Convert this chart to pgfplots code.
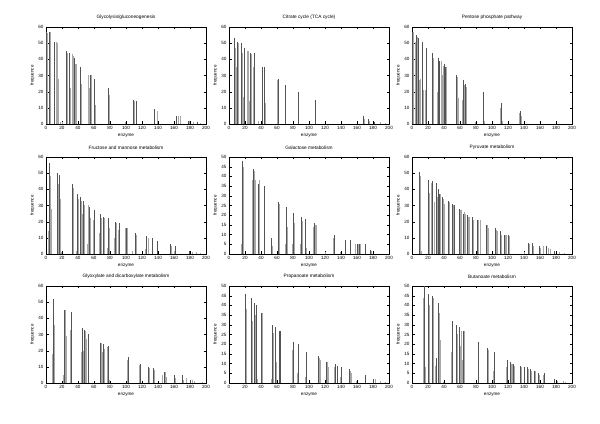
\documentclass[border=0pt]{standalone}
\usepackage{pgfplots}
\pgfplotsset{compat=1.18}
\usepackage{fontspec}
\setmainfont{Liberation Sans}
\definecolor{dk}{gray}{0.33}
\definecolor{lt}{gray}{0.66}
\pgfplotsset{
  panel/.style={
    width=160bp, height=97bp, scale only axis, anchor=south west,
    xmin=0, xmax=200, ymin=0,
    xtick={0,20,...,200},
    tick align=inside, major tick length=2.5bp,
    axis line style={line width=0.4pt},
    tick style={line width=0.3pt, black},
    every tick label/.append style={font=\fontsize{4.6}{5.5}\selectfont},
    /pgf/number format/assume math mode=true,
    xlabel={enzyme}, ylabel={frequence},
    label style={font=\fontsize{4.6}{5.5}\selectfont},
    title style={font=\fontsize{4.8}{5.5}\selectfont, yshift=-2bp},
    xlabel style={yshift=3bp},
    ylabel style={yshift=-3bp},
    xticklabel style={yshift=1bp},
    yticklabel style={xshift=1bp},
  },
  y60/.style={ymax=60, ytick={0,10,...,60}},
  y50/.style={ymax=50, ytick={0,5,...,50}},
  dkc/.style={ycomb, draw=dk, line width=0.75pt, no marks},
  ltc/.style={ycomb, draw=lt, line width=0.85pt, no marks},
}
\begin{document}
\begin{tikzpicture}
\path[use as bounding box] (0,0) rectangle (600bp,424bp);
% Row 1
\begin{axis}[panel, y60, at={(46bp,300bp)}, title={Glycolysis/gluconeogenesis}]
\addplot[ltc] coordinates {(2,56)(5,57)(6,28)(10,33)(12.5,51)(14.5,50)(16,28)(18,1)(20,1)(26.5,44)(30.5,22)(32.5,43)(33.8,42)(36.7,37)(38,37)(44.2,25)(53,30)(54,22)(56.5,30)(62,12)(79,18)(99,1)(110,14)(138.75,8)(139.5,5)(165,5)(168,5)(179,2)(183.75,1)(193,0.5)};
\addplot[dkc] coordinates {(1,57)(4,57)(11,51)(25.4,45)(29.6,44)(35,41)(43,35)(55.4,30)(60.4,28)(78.3,22)(108.75,15)(113,14)(135.4,9)(163,5)(177.5,2)(188.75,1)};
\end{axis}
\begin{axis}[panel, y60, at={(229bp,300bp)}, title={Citrate cycle (TCA cycle)}]
\addplot[ltc] coordinates {(7.5,47)(8.75,35)(11.6,50)(16.6,44)(17.9,11)(18.4,17)(19.8,46)(22.9,45)(24,45)(26,14)(27.8,43)(30.4,35)(36.7,2)(45,13)(61,27)(70.4,22)(87.3,19)(108.2,14)(169,3)(176,2)(189,1)(195,0.5)};
\addplot[dkc] coordinates {(6.7,53)(10.8,51)(15.8,50)(19,47)(27,44)(31.7,44)(42,35)(43.75,35)(61.7,28)(71,24)(86.7,20)(107.5,15)(168,5)(174,3)(181.7,1)};
\end{axis}
\begin{axis}[panel, y60, at={(412bp,300bp)}, title={Pentose phosphate pathway}]
\addplot[ltc] coordinates {(2,57)(4,51)(6.2,54)(7.5,45)(9.2,27)(11,28)(13.3,51)(14.5,21)(16.7,21)(18.3,45)(25,4)(27,41)(31.3,20)(33.3,37)(36.3,39)(37.5,30)(38.75,36)(41.2,21)(42.8,35)(57,29)(58.5,16)(63.3,15)(65.4,24)(67.5,23)(79,1)(88.75,11)(91,2)(110,10)(113,2)(134.6,7)(137,5)};
\addplot[dkc] coordinates {(0.8,57)(5.4,55)(8.3,53)(12.5,51)(17.5,47)(25.8,44)(32.5,41)(34.6,39)(40,37)(42,35)(56,30)(64,27)(66.7,25)(89.6,20)(111.7,13)(136,8)};
\end{axis}
% Row 2
\begin{axis}[panel, y60, at={(46bp,170bp)}, title={Fructose and mannose metabolism}]
\addplot[ltc] coordinates {(3.3,14)(5,48)(6.2,28)(15,43)(17.5,34)(19.2,1)(33.8,41)(37.5,2)(40,34)(44.2,33)(45.4,25)(48.3,30)(52,6)(53,30)(55.4,22)(58.7,21)(66.7,13)(69.2,22)(73.3,22)(76.7,4)(79.2,16)(85.4,10)(88,19)(91,15)(99,16)(102,16)(107.5,2)(112.5,12)(124.4,3)(127.5,10)(133.3,9)(139.6,7)(157,5)(161,2)(183,1)(187.5,1)(193,0.5)};
\addplot[dkc] coordinates {(4.2,56)(13.75,50)(16.7,49)(32.5,43)(38.75,37)(43,35)(47,33)(54.6,29)(60.4,27)(68,25)(72,23)(78,22)(86.7,20)(92,19)(101,16)(111.7,13)(126,11)(132.5,10)(138.75,8)(156,6)(162,5)(179,2)};
\end{axis}
\begin{axis}[panel, y50, at={(229bp,170bp)}, title={Galactose metabolism}]
\addplot[ltc] coordinates {(15.8,5)(18,45)(29.6,38)(31,8)(31.7,43)(32.5,38)(37.5,38)(38.5,28)(44.6,24)(54,4)(62.5,26)(71,5)(73.3,14)(79.6,5)(81.2,16)(89.6,5)(92,17)(95,12)(97,3)(105.4,14)(108.3,15)(109.6,15)(120,1)(130.8,8)(138.75,1)(145.4,5)(151.3,6)(158,5)(161.7,5)(164.4,5)(170,3)(178.3,1.5)};
\addplot[dkc] coordinates {(17,48)(30.4,44)(36.7,36)(43.75,35)(53.3,8)(61.7,27)(72,24)(80.4,21)(90.8,19)(96,18)(106.7,16)(131.7,10)(146,7)(152,7)(160,5)(163,5)(171,5)(177,2)};
\end{axis}
\begin{axis}[panel, y60, at={(412bp,170bp)}, title={Pyruvate metabolism}]
\addplot[ltc] coordinates {(10.4,48)(11.6,2)(20,2)(22,38)(23.75,44)(25.8,39)(28.3,32)(30.8,42)(31.7,35)(33.3,36)(35.4,37)(38.75,34)(39.6,30)(40.8,31)(47,32)(51.3,30)(60.4,27)(61.7,27)(65.4,26)(66.7,25)(70,23)(71.7,23)(76.3,21)(83.3,21)(85,21)(94.6,18)(95.8,16)(105.4,15)(106.7,14)(111.3,12)(116.7,12)(118.3,12)(121.3,11)(140,1)(146.3,6)(152,5)(161,4)(164.6,5)(171,4)(172.5,3)(184.6,1)(191,0.5)};
\addplot[dkc] coordinates {(9.6,51)(20.8,46)(25,45)(30,44)(32.5,40)(34.6,37)(37.5,35)(45.8,33)(50,31)(53,30)(59.6,28)(64.6,25)(68.75,24)(75,23)(82,21)(93,18)(104,16)(110,14)(115,12)(120,12)(145,7)(151,7)(159.6,5)(168,5)(178,2)};
\end{axis}
% Row 3
\begin{axis}[panel, y60, at={(46bp,41bp)}, title={Glyoxylate and dicarboxylate metabolism}]
\addplot[ltc] coordinates {(8.3,18)(10.4,36)(22,5)(24.6,45)(25.4,29)(30.4,33)(44,19)(46.7,20)(49.2,32)(51,27)(69.2,25)(70.4,19)(73.3,21)(77,22)(79.6,2)(102,14)(116.7,11)(128.8,9)(135,8)(146,5)(148.8,7)(150,4)(161.7,3)(172,2)(176,3)(183,2)(186,1)(195,0.5)};
\addplot[dkc] coordinates {(9.6,52)(23.3,45)(31.7,44)(45.4,34)(48,33)(52.5,30)(68,25)(72,24)(78.3,23)(103.3,16)(118,12)(127.5,10)(133.75,9)(147.5,7)(160.4,5)(171,5)(181,2)};
\end{axis}
\begin{axis}[panel, y50, at={(229bp,41bp)}, title={Propanoate metabolism}]
\addplot[ltc] coordinates {(22,38)(28.8,32)(33,35)(35.8,2)(42,36)(52.5,2)(55.4,26)(59.6,11)(63.4,3)(79.2,17)(85.4,5)(95.8,3)(113,13)(114.2,12)(122.9,11)(124,8)(131.3,8)(135,5)(138.75,3)(152,6)(153,5)(158.75,1)(182.5,2)(188.75,1)(195,0.5)};
\addplot[dkc] coordinates {(20.8,46)(27.5,44)(31.7,41)(34.6,40)(40.8,36)(54,30)(58.3,29)(62.5,27)(64.6,27)(80.4,21)(86.7,20)(97,16)(111.7,14)(121.25,11)(132.5,10)(136,9)(140,8)(150.4,7)(171,4)(180.4,2)};
\end{axis}
\begin{axis}[panel, y50, at={(412bp,41bp)}, title={Butanoate metabolism}]
\addplot[ltc] coordinates {(14.6,44)(16.7,8)(21,46)(22,40)(25,37)(27,44)(29,9)(34.2,36)(35,22)(39.6,0.5)(48.75,16)(51,7)(55,29)(57,25)(61,19)(62,27)(63.3,12)(66,27)(82.5,10)(95,16)(96,17)(102,6)(117.9,8)(124.2,10)(125.4,10)(128.3,9)(137,8)(145,7)(149.2,6)(154.2,6)(158.8,4)(163.8,4)(182,1)(189.6,1)(192,0.5)};
\addplot[dkc] coordinates {(15.8,50)(20,46)(26,45)(30,13)(33.3,41)(50,32)(56,30)(59.6,29)(64.6,27)(83.3,21)(93.75,18)(103.3,16)(118.75,12)(123,11)(127,10)(136,9)(140.4,8)(143.75,8)(148,7)(153,6)(157.5,5)(165,5)(178,2)};
\end{axis}
\end{tikzpicture}
\end{document}
